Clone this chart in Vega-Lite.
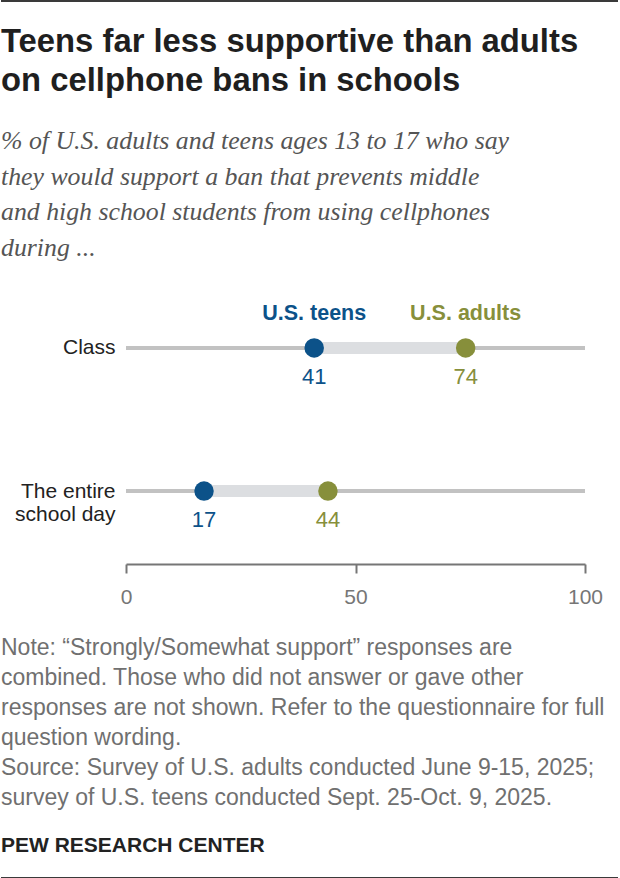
{
  "$schema": "https://vega.github.io/schema/vega-lite/v6.json",
  "padding": {"left": 1, "top": 0, "right": 0, "bottom": 0},
  "background": "white",
  "columns": 1,
  "spacing": 24,
  "config": {
    "font": "Liberation Sans",
    "view": {"stroke": null}
  },
  "datasets": {
    "support": [
      {"row": "Class", "group": "U.S. teens", "value": 41},
      {"row": "Class", "group": "U.S. adults", "value": 74},
      {"row": "The entire school day", "group": "U.S. teens", "value": 17},
      {"row": "The entire school day", "group": "U.S. adults", "value": 44}
    ],
    "border": [{"edge": "rule"}]
  },
  "concat": [
    {
      "data": {"name": "border"},
      "width": 617,
      "height": 2,
      "mark": {"type": "rect", "color": "#3a3a3a"},
      "encoding": {}
    },
    {
      "columns": 1,
      "spacing": 30,
      "concat": [
        {
          "data": {"name": "support"},
          "width": 617,
          "height": 289,
          "title": {
            "text": ["Teens far less supportive than adults", "on cellphone bans in schools"],
            "subtitle": [
              "% of U.S. adults and teens ages 13 to 17 who say",
              "they would support a ban that prevents middle",
              "and high school students from using cellphones",
              "during ..."
            ],
            "anchor": "start",
            "frame": "bounds",
            "orient": "top",
            "font": "Liberation Sans",
            "fontSize": 32.8,
            "fontWeight": "bold",
            "color": "#1f1f1f",
            "lineHeight": 39,
            "subtitleFont": "Liberation Serif",
            "subtitleFontSize": 25.8,
            "subtitleFontStyle": "italic",
            "subtitleColor": "#555555",
            "subtitleLineHeight": 35.7,
            "subtitlePadding": 31,
            "offset": 14
          },
          "layer": [
            {
              "transform": [
                {"aggregate": [{"op": "min", "field": "value", "as": "lo"}, {"op": "max", "field": "value", "as": "hi"}], "groupby": ["row"]}
              ],
              "mark": {"type": "rule", "color": "#c2c2c2", "strokeWidth": 4},
              "encoding": {
                "x": {
                  "datum": 0,
                  "type": "quantitative",
                  "title": null,
                  "scale": {"domain": [0, 100], "range": [125, 584], "nice": false},
                  "axis": {
                    "values": [0, 50, 100],
                    "grid": false,
                    "labelFontSize": 21,
                    "labelColor": "#767676",
                    "labelFont": "Liberation Sans",
                    "labelPadding": 13,
                    "labelFlush": false,
                    "domainColor": "#767676",
                    "domainWidth": 2,
                    "tickColor": "#767676",
                    "tickWidth": 2,
                    "tickSize": 9
                  }
                },
                "x2": {"datum": 100},
                "y": {
                  "field": "row",
                  "type": "nominal",
                  "title": null,
                  "scale": {"type": "point", "domain": ["Class", "The entire school day"], "padding": 0.51},
                  "axis": {
                    "domain": false,
                    "ticks": false,
                    "tickSize": 0,
                    "grid": false,
                    "labelFontSize": 21,
                    "labelColor": "#222222",
                    "labelFont": "Liberation Sans",
                    "labelAlign": "right",
                    "labelPadding": -114,
                    "labelLineHeight": 23,
                    "labelLimit": 0,
                    "minExtent": 0,
                    "labelExpr": "datum.value == 'The entire school day' ? ['The entire', 'school day'] : datum.label"
                  }
                }
              }
            },
            {
              "transform": [
                {"aggregate": [{"op": "min", "field": "value", "as": "lo"}, {"op": "max", "field": "value", "as": "hi"}], "groupby": ["row"]}
              ],
              "mark": {"type": "rule", "color": "#dcdee1", "strokeWidth": 12},
              "encoding": {
                "x": {"field": "lo", "type": "quantitative", "title": null},
                "x2": {"field": "hi"},
                "y": {"field": "row", "type": "nominal", "title": null}
              }
            },
            {
              "mark": {"type": "circle", "size": 380, "opacity": 1},
              "encoding": {
                "x": {"field": "value", "type": "quantitative", "title": null},
                "y": {"field": "row", "type": "nominal", "title": null},
                "color": {
                  "field": "group",
                  "type": "nominal",
                  "scale": {"domain": ["U.S. teens", "U.S. adults"], "range": ["#0c5289", "#878f3b"]},
                  "legend": null
                }
              }
            },
            {
              "mark": {"type": "text", "fontSize": 22, "dy": 29, "baseline": "middle", "align": "center"},
              "encoding": {
                "x": {"field": "value", "type": "quantitative", "title": null},
                "y": {"field": "row", "type": "nominal", "title": null},
                "text": {"field": "value", "type": "quantitative"},
                "color": {"field": "group", "type": "nominal", "legend": null}
              }
            },
            {
              "transform": [{"filter": "datum.row == 'Class'"}],
              "mark": {"type": "text", "fontSize": 21.5, "fontWeight": "bold", "dy": -34, "baseline": "middle", "align": "center"},
              "encoding": {
                "x": {"field": "value", "type": "quantitative", "title": null},
                "y": {"field": "row", "type": "nominal", "title": null},
                "text": {"field": "group", "type": "nominal"},
                "color": {"field": "group", "type": "nominal", "legend": null}
              }
            }
          ]
        },
        {
          "data": {"name": "border"},
          "width": 617,
          "height": 2,
          "title": {
            "text": [
              "Note: \u201cStrongly/Somewhat support\u201d responses are",
              "combined. Those who did not answer or gave other",
              "responses are not shown. Refer to the questionnaire for full",
              "question wording.",
              "Source: Survey of U.S. adults conducted June 9-15, 2025;",
              "survey of U.S. teens conducted Sept. 25-Oct. 9, 2025."
            ],
            "subtitle": "PEW RESEARCH CENTER",
            "anchor": "start",
            "frame": "bounds",
            "orient": "top",
            "font": "Liberation Sans",
            "fontSize": 23,
            "fontWeight": "normal",
            "color": "#707070",
            "lineHeight": 30,
            "subtitleFont": "Liberation Sans",
            "subtitleFontSize": 21,
            "subtitleFontWeight": "bold",
            "subtitleColor": "#222222",
            "subtitlePadding": 25,
            "offset": 21
          },
          "mark": {"type": "rect", "color": "#3a3a3a"},
          "encoding": {}
        }
      ]
    }
  ]
}
